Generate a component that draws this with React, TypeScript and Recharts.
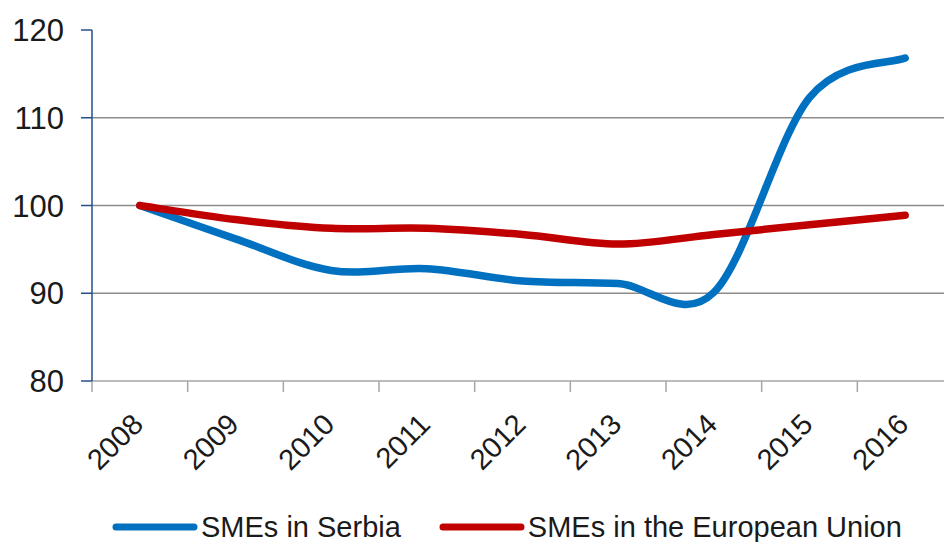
import { LineChart, Line, XAxis, YAxis, CartesianGrid, Legend } from 'recharts';

const years = ['2008', '2009', '2010', '2011', '2012', '2013', '2014', '2015', '2016'];
const serbia = [100, 96.2, 92.6, 92.8, 91.4, 91.1, 90.1, 112.3, 116.8];
const europeanUnion = [100, 98.4, 97.4, 97.4, 96.7, 95.6, 96.7, 97.8, 98.9];
const yTicks = [80, 90, 100, 110, 120];
const gridValues = [90, 100, 110];
const boundaryTicks = [0, 1, 2, 3, 4, 5, 6, 7, 8, 9];

const data = years.map((year, i) => ({
  year,
  slot: i + 0.5,
  serbia: serbia[i],
  eu: europeanUnion[i],
}));

const FONT = '"Liberation Sans", Arial, sans-serif';

// Excel-style smoothing (Catmull-Rom through the points)
const smoothCurve: any = (context: any) => {
  let pts: number[][] = [];
  return {
    areaStart() {},
    areaEnd() {},
    lineStart() {
      pts = [];
    },
    point(x: number, y: number) {
      pts.push([+x, +y]);
    },
    lineEnd() {
      if (!pts.length) return;
      context.moveTo(pts[0][0], pts[0][1]);
      for (let i = 0; i < pts.length - 1; i++) {
        const p0 = pts[i - 1] || pts[i];
        const p1 = pts[i];
        const p2 = pts[i + 1];
        const p3 = pts[i + 2] || p2;
        context.bezierCurveTo(
          p1[0] + (p2[0] - p0[0]) / 6,
          p1[1] + (p2[1] - p0[1]) / 6,
          p2[0] - (p3[0] - p1[0]) / 6,
          p2[1] - (p3[1] - p1[1]) / 6,
          p2[0],
          p2[1]
        );
      }
    },
  };
};

const YearTick = ({ x, y, payload }: any) => {
  const ax = x + 5;
  const ay = y + 44;
  return (
    <text
      x={ax}
      y={ay}
      textAnchor="end"
      transform={`rotate(-45, ${ax}, ${ay})`}
      fontSize={29}
      fontFamily={FONT}
      fill="#1a1a1a"
    >
      {payload.value}
    </text>
  );
};

// boundary axis only shows tick marks, no labels
const NoLabel = () => <g />;

const LegendContent = ({ payload }: any) => (
  <div style={{ display: 'flex', alignItems: 'center', height: 30, paddingLeft: 112, fontFamily: FONT, fontSize: 29, color: '#1a1a1a' }}>
    {(payload || []).map((entry: any, i: number) => (
      <div key={i} style={{ display: 'flex', alignItems: 'center', marginRight: 38 }}>
        <svg width={86} height={10} style={{ marginRight: 3 }}>
          <line x1={4} y1={5} x2={82} y2={5} stroke={entry.color} strokeWidth={7} strokeLinecap="round" />
        </svg>
        <span style={{ whiteSpace: 'nowrap' }}>{entry.value}</span>
      </div>
    ))}
  </div>
);

export default function App() {
  return (
    <div style={{ position: 'absolute', top: 0, left: 0, width: 944, height: 542, overflow: 'hidden', background: '#fff' }}>
      <LineChart width={970} height={542} data={data} margin={{ top: 30, right: 17, left: 0, bottom: 0 }}>
        <CartesianGrid horizontal vertical={false} horizontalValues={gridValues} stroke="#8c8c8c" strokeWidth={1.5} />
        <XAxis
          xAxisId="cat"
          dataKey="year"
          scale="band"
          height={130}
          axisLine={false}
          tickLine={false}
          tickSize={0}
          tickMargin={0}
          interval={0}
          tick={<YearTick />}
        />
        <XAxis
          xAxisId="bounds"
          dataKey="slot"
          type="number"
          domain={[0, 9]}
          allowDataOverflow
          ticks={boundaryTicks}
          interval={0}
          tick={<NoLabel />}
          height={1}
          tickSize={11}
          axisLine={{ stroke: '#a6a6a6', strokeWidth: 1.5 }}
          tickLine={{ stroke: '#a6a6a6', strokeWidth: 1.5 }}
        />
        <YAxis
          type="number"
          domain={[80, 120]}
          ticks={yTicks}
          width={92}
          tickSize={11}
          tickMargin={17}
          axisLine={{ stroke: '#23508a', strokeWidth: 1.5 }}
          tickLine={{ stroke: '#23508a', strokeWidth: 1.5 }}
          tick={{ fontSize: 31, fontFamily: FONT, fill: '#1a1a1a' }}
        />
        <Legend verticalAlign="bottom" content={<LegendContent />} />
        <Line
          xAxisId="cat"
          type={smoothCurve}
          dataKey="serbia"
          name="SMEs in Serbia"
          stroke="#0070c0"
          strokeWidth={7.5}
          strokeLinecap="round"
          dot={false}
          activeDot={false}
          isAnimationActive={false}
        />
        <Line
          xAxisId="cat"
          type={smoothCurve}
          dataKey="eu"
          name="SMEs in the European Union"
          stroke="#c00000"
          strokeWidth={7.5}
          strokeLinecap="round"
          dot={false}
          activeDot={false}
          isAnimationActive={false}
        />
      </LineChart>
    </div>
  );
}
